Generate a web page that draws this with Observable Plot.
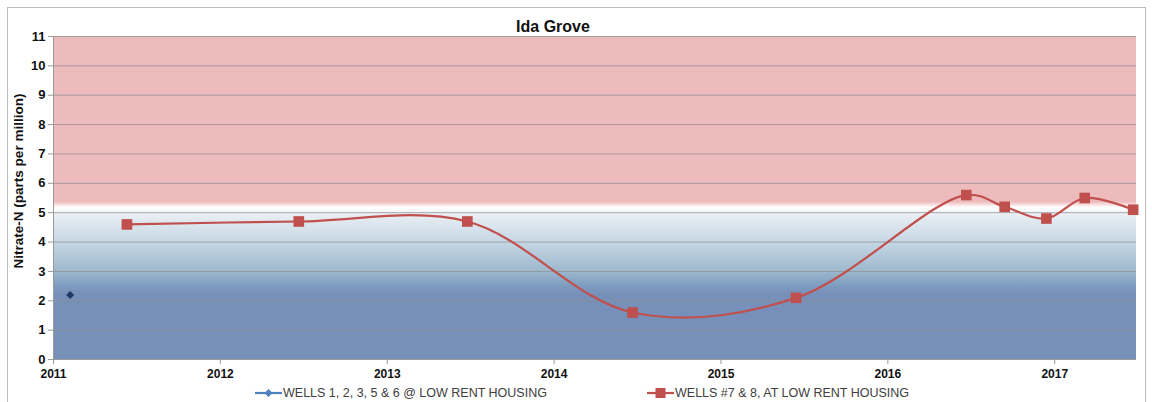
<!DOCTYPE html>
<html>
<head>
<meta charset="utf-8">
<script src="https://cdn.jsdelivr.net/npm/d3@7"></script>
<script src="https://cdn.jsdelivr.net/npm/@observablehq/plot@0.6"></script>
<style>
  html, body { margin: 0; padding: 0; background: #fff; }
  body { width: 1152px; height: 402px; position: relative; overflow: hidden; font-family: "Liberation Sans", Arial, sans-serif; }
  #frame { position: absolute; left: 7px; top: 7px; width: 1139px; height: 420px; border: 1px solid #bdbdbd; box-sizing: border-box; pointer-events: none; }
  #chart { position: absolute; left: 0; top: 0; }
  #legend { position: absolute; left: 0; top: 384px; width: 1152px; height: 18px; font-size: 12.5px; color: #404040; }
  .item { position: absolute; top: 0; display: flex; align-items: center; height: 18px; white-space: nowrap; }
  .item svg { margin-right: 1px; }
</style>
</head>
<body>
<div id="chart"></div>
<div id="legend"></div>
<div id="frame"></div>
<script>
// ---- data ----
const titleText = ["Ida Grove"];
const yLabelText = ["Nitrate-N (parts per million)"];
const seriesNames = ["WELLS 1, 2, 3, 5 & 6 @ LOW RENT HOUSING", "WELLS #7 & 8, AT LOW RENT HOUSING"];
const seriesColors = ["#4F81BD", "#C0504D"];
const markerColorBlue = "#1F3A66";

// Wells 1,2,3,5 & 6 (single sample)
const wellsA_year = [2011.10];
const wellsA_value = [2.2];

// Wells #7 & 8
const wellsB_year = [2011.44, 2012.47, 2013.48, 2014.47, 2015.45, 2016.47, 2016.70, 2016.95, 2017.18, 2017.47];
const wellsB_value = [4.6, 4.7, 4.7, 1.6, 2.1, 5.6, 5.2, 4.8, 5.5, 5.1];

const xTicks = [2011, 2012, 2013, 2014, 2015, 2016, 2017];
const yTicks = [0, 1, 2, 3, 4, 5, 6, 7, 8, 9, 10, 11];

// background band: value -> colour stops
const bgStopValues = [11, 5.36, 5.17, 5.05, 4.9, 4.0, 3.0, 2.5, 2.2, 0];
const bgStopColors = ["#EEBBBD", "#EEBBBD", "#FFFFFF", "#F6F8FA", "#E8EEF3", "#C6D7E4", "#9DB9CE", "#7E9CC0", "#7690BA", "#7690BA"];

// ---- build ----
(function () {
const seriesA = wellsA_year.map((x, i) => ({x, y: wellsA_value[i]}));
const seriesB = wellsB_year.map((x, i) => ({x, y: wellsB_value[i]}));
const xDomain = [2011, 2017.49];
const yDomain = [0, 11];

const chart = Plot.plot({
  width: 1152,
  height: 380,
  marginLeft: 53,
  marginRight: 16,
  marginTop: 36,
  marginBottom: 21,
  style: {fontFamily: "'Liberation Sans', Arial, sans-serif", background: "transparent"},
  x: {domain: xDomain},
  y: {domain: yDomain},
  marks: [
    Plot.rect([{x1: xDomain[0], x2: xDomain[1], y1: yDomain[0], y2: yDomain[1]}],
      {x1: "x1", x2: "x2", y1: "y1", y2: "y2", fill: "url(#bgGrad)", inset: 0}),
    Plot.ruleY(yTicks.filter(d => d > 0), {stroke: "#8f8f8f", strokeOpacity: 0.75, strokeWidth: 1}),
    Plot.ruleY([0], {stroke: "#9a9a9a", strokeWidth: 1}),
    Plot.ruleX([xDomain[0]], {stroke: "#9a9a9a", strokeWidth: 1}),
    Plot.axisY({ticks: yTicks, tickSize: 5, tickPadding: 3, stroke: "#9a9a9a", fill: "#111", fontSize: 13, fontWeight: "bold", label: null}),
    Plot.axisX({ticks: xTicks, tickFormat: d => String(d), tickSize: 5, tickPadding: 5, stroke: "#9a9a9a", fill: "#111", fontSize: 12, fontWeight: "bold", label: null}),
    Plot.line(seriesB, {x: "x", y: "y", stroke: seriesColors[1], strokeWidth: 2.2, curve: "catmull-rom"}),
    Plot.dot(seriesB, {x: "x", y: "y", symbol: "square", r: 6, fill: seriesColors[1], stroke: "none"}),
    Plot.dot(seriesA, {x: "x", y: "y", symbol: "diamond2", r: 3.6, fill: markerColorBlue, stroke: "none"}),
    Plot.text(titleText, {text: d => d, frameAnchor: "top", dy: -16, dx: -42, fontSize: 16, fontWeight: "bold", fill: "#111"}),
    Plot.text(yLabelText, {text: d => d, frameAnchor: "left", textAnchor: "middle", dx: -35, dy: -17, rotate: -90, fontSize: 13.5, fontWeight: "bold", fill: "#111"})
  ]
});

// gradient definition derived from the y scale
const ys = chart.scale("y");
const yTop = ys.apply(yDomain[1]), yBottom = ys.apply(yDomain[0]);
const grad = d3.select(chart).insert("defs", ":first-child")
  .append("linearGradient").attr("id", "bgGrad")
  .attr("x1", 0).attr("y1", 0).attr("x2", 0).attr("y2", 1);
bgStopValues.forEach((v, i) => {
  grad.append("stop")
    .attr("offset", (ys.apply(v) - yTop) / (yBottom - yTop))
    .attr("stop-color", bgStopColors[i]);
});

document.getElementById("chart").appendChild(chart);

// legend
const legend = document.getElementById("legend");
const legendLeft = [255, 647];
seriesNames.forEach((name, i) => {
  const item = document.createElement("div");
  item.className = "item";
  item.style.left = legendLeft[i] + "px";
  const s = d3.create("svg").attr("width", 27).attr("height", 18);
  s.append("line").attr("x1", 0).attr("x2", 27).attr("y1", 9).attr("y2", 9).attr("stroke", seriesColors[i]).attr("stroke-width", 2.2);
  if (i === 0) {
    s.append("path").attr("d", d3.symbol(d3.symbolDiamond2, 40)()).attr("transform", "translate(13.5,9)").attr("fill", seriesColors[0]);
  } else {
    s.append("rect").attr("x", 8.5).attr("y", 4).attr("width", 10).attr("height", 10).attr("fill", seriesColors[1]);
  }
  item.appendChild(s.node());
  const t = document.createElement("span");
  t.textContent = name;
  item.appendChild(t);
  legend.appendChild(item);
});
})();
</script>
</body>
</html>
